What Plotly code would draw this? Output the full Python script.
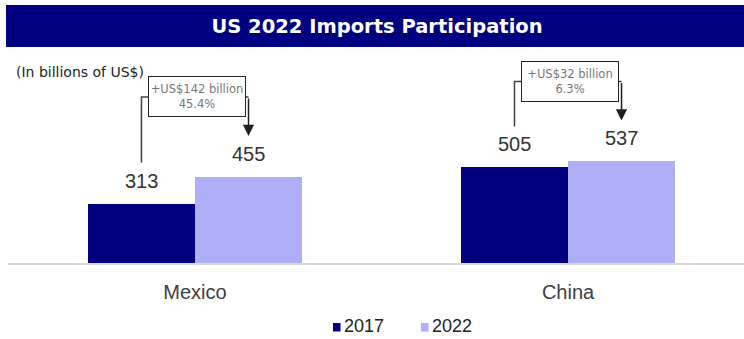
import plotly.graph_objects as go

# Data (billions of US$)
categories = ["Mexico", "China"]
years = ["2017", "2022"]
imports_2017 = [313, 505]
imports_2022 = [455, 537]

NAVY = "#000080"
LAVENDER = "#AFAFF8"
colors = [NAVY, LAVENDER]

W, H = 744, 339
plot_left, plot_top, baseline = 8, 54, 263
y_max = 1105
unit_per_px = y_max / (baseline - plot_top)
bar_w = 0.287
x_pos = list(range(len(categories)))

fig = go.Figure()
for name, vals, col, off in ((years[0], imports_2017, colors[0], -bar_w),
                             (years[1], imports_2022, colors[1], 0)):
    fig.add_trace(go.Bar(x=x_pos, y=vals, name=name, width=bar_w, offset=off,
                         marker=dict(color=col, line=dict(width=0)), showlegend=False))

shapes = [
    # title band
    dict(type="rect", xref="paper", yref="paper", x0=6 / W, x1=1, y0=1 - 47 / H, y1=1 - 5 / H,
         fillcolor=NAVY, line=dict(width=0), layer="below"),
]
annotations = [
    dict(text="(In billions of US$)", xref="paper", yref="paper", x=14 / W, y=1 - 72 / H,
         xanchor="left", yanchor="middle", showarrow=False,
         font=dict(family="DejaVu Sans", size=14, color="#222222")),
]

for i, (a, b) in enumerate(zip(imports_2017, imports_2022)):
    xa, xb = i - bar_w / 2, i + bar_w / 2
    # value labels above each bar
    for xv, v in ((xa, a), (xb, b)):
        annotations.append(dict(x=xv, y=v, yshift=23, text=str(v), showarrow=False,
                                yanchor="middle",
                                font=dict(family="Liberation Sans", size=20, color="#333333")))
    y_link = max(a, b) + 80 * unit_per_px
    y_start = a + 41 * unit_per_px
    y_tip = b + 41 * unit_per_px
    # bracket from the 2017 bar over to the 2022 bar
    shapes.append(dict(type="path", xref="x", yref="y",
                       path=f"M {xa},{y_start} L {xa},{y_link} L {xb},{y_link}",
                       line=dict(color="#404040", width=1.5)))
    annotations.append(dict(x=xb, y=y_tip, ax=xb, ay=y_link, axref="x", ayref="y", text="",
                            showarrow=True, arrowhead=2, arrowsize=1.5, arrowwidth=1.5,
                            arrowcolor="#202020", standoff=0))
    diff = b - a
    pct = diff / a * 100
    annotations.append(dict(x=i, y=y_link, xshift=2, text=f"+US${diff} billion<br>{pct:.1f}%",
                            showarrow=False, xanchor="center", yanchor="middle",
                            width=96, height=39, align="center", valign="middle",
                            bgcolor="white", bordercolor="#222222", borderwidth=1, borderpad=0,
                            font=dict(family="DejaVu Sans", size=11.5, color="#777777")))

# legend: small square swatch followed by the year
legend_x = [333, 421]
for yr, col, lx in zip(years, colors, legend_x):
    shapes.append(dict(type="rect", xref="paper", yref="paper",
                       x0=lx / W, x1=(lx + 7.5) / W, y0=1 - 331.5 / H, y1=1 - 323 / H,
                       fillcolor=col, line=dict(width=0)))
    annotations.append(dict(text=yr, xref="paper", yref="paper", x=(lx + 9) / W, y=1 - 326 / H,
                            xanchor="left", yanchor="middle", showarrow=False,
                            font=dict(family="Liberation Sans", size=18, color="#222222")))

fig.update_layout(
    width=W, height=H,
    margin=dict(l=0, r=0, t=0, b=0),
    paper_bgcolor="white", plot_bgcolor="white",
    title=dict(text="<b>US 2022 Imports Participation</b>", x=377 / W, y=1 - 26 / H,
               xanchor="center", yanchor="middle",
               font=dict(family="DejaVu Sans", size=19.5, color="white")),
    barmode="group", bargap=0, bargroupgap=0,
    showlegend=False,
    xaxis=dict(domain=[plot_left / W, 1], range=[-187 / 373, 549 / 373], automargin=False,
               tickvals=x_pos, ticktext=categories, showgrid=False, zeroline=False,
               showline=True, linecolor="#D9D9D9", linewidth=1.5,
               ticks="outside", ticklen=10, tickcolor="rgba(0,0,0,0)",
               tickfont=dict(family="Liberation Sans", size=20, color="#404040"),
               fixedrange=True),
    yaxis=dict(domain=[1 - baseline / H, 1 - plot_top / H], range=[0, y_max], automargin=False,
               visible=False, showgrid=False, zeroline=False, fixedrange=True),
    shapes=shapes,
    annotations=annotations,
)

fig.write_html("out.html")
